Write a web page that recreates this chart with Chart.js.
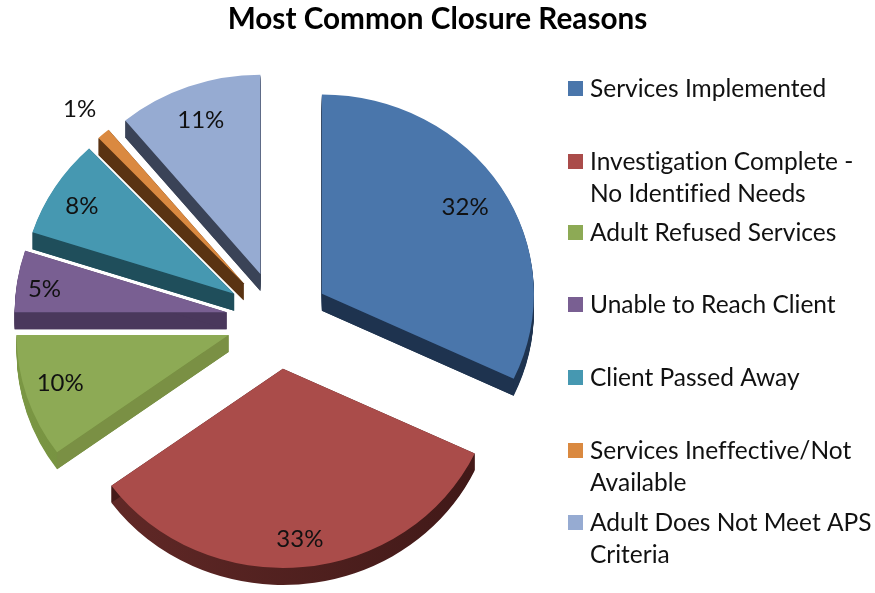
<!DOCTYPE html>
<html>
<head>
<meta charset="utf-8">
<title>Most Common Closure Reasons</title>
<script src="https://cdn.jsdelivr.net/npm/chart.js@4"></script>
<style>
    html, body { margin: 0; padding: 0; background: #fff; }
    canvas { display: block; }
</style>
</head>
<body>
<canvas id="closureChart" width="875" height="593"></canvas>
<script>
const reasons = [
    ['Services Implemented'],
    ['Investigation Complete -', 'No Identified Needs'],
    ['Adult Refused Services'],
    ['Unable to Reach Client'],
    ['Client Passed Away'],
    ['Services Ineffective/Not', 'Available'],
    ['Adult Does Not Meet APS', 'Criteria']
];
const shares = [32, 33, 10, 5, 8, 1, 11];

const topColors = ['#4a76ab', '#aa4c4a', '#8daa55', '#795f92', '#4698b1', '#da8940', '#96abd2'];
const sideColors = ['#1e334f', '#451a19', '#7a9044', '#4a385c', '#1f4e5b', '#5a3312', '#3a4357'];
const rimColors = [
    ['#1e334f', '#1e334f'],
    ['#642a28', '#3f1817'],
    ['#7b9744', '#587028'],
    ['#4a385c', '#4a385c'],
    ['#1f4e5b', '#1f4e5b'],
    ['#5a3312', '#5a3312'],
    ['#3a4357', '#3a4357']
];

// how far along the slice radius each percentage sits, and a small vertical nudge
const labelReach = [0.80, 0.85, 0.835, 0.87, 0.85, 1.17, 0.83];
const labelNudge = [-1, 1.5, -3, 4, 3, 1, 2];
const legendRows = [88, 161, 232, 304, 377, 450, 522];

const TILT = 0.94;
const DEPTH = 17;
const EXPLODE = 52;
// pie sits left of the canvas middle, the title stays centred on the canvas
const SHIFT_X = -159.5;
const FONT = 'Lato, Carlito, sans-serif';

function midAngle(arc) {
    return (arc.startAngle + arc.endAngle) / 2;
}

// Pie with pulled-out slices, squashed vertically and given a thick edge
class Pie3DController extends Chart.PieController {
    static id = 'pie3d';
    static defaults = Chart.PieController.defaults;
    static overrides = Chart.PieController.overrides;

    updateElement(arc, index, props, mode) {
        if (props.x !== undefined) {
            const mid = (props.startAngle + props.endAngle) / 2;
            props.x += SHIFT_X + Math.cos(mid) * EXPLODE;
            props.y += Math.sin(mid) * EXPLODE;
        }
        super.updateElement(arc, index, props, mode);
    }

    drawSides(ctx, arc, index) {
        const { x, y, startAngle, endAngle, outerRadius: r } = arc;
        const rim = ctx.createLinearGradient(x - r, 0, x + r, 0);
        rim.addColorStop(0, rimColors[index][0]);
        rim.addColorStop(1, rimColors[index][1]);
        ctx.fillStyle = rim;
        for (let d = DEPTH; d > 0; d--) {
            ctx.beginPath();
            ctx.moveTo(x, y + d / TILT);
            ctx.arc(x, y + d / TILT, r, startAngle, endAngle);
            ctx.closePath();
            ctx.fill();
        }
        // the two cut faces
        ctx.fillStyle = sideColors[index];
        [startAngle, endAngle].forEach(angle => {
            const ex = x + Math.cos(angle) * r;
            const ey = y + Math.sin(angle) * r;
            ctx.beginPath();
            ctx.moveTo(x, y);
            ctx.lineTo(ex, ey);
            ctx.lineTo(ex, ey + DEPTH / TILT);
            ctx.lineTo(x, y + DEPTH / TILT);
            ctx.closePath();
            ctx.fill();
        });
    }

    draw() {
        const ctx = this._ctx;
        const area = this.chart.chartArea;
        const cy = (area.top + area.bottom) / 2;
        ctx.save();
        ctx.translate(0, cy);
        ctx.scale(1, TILT);
        ctx.translate(0, -cy);
        this._cachedMeta.data.forEach((arc, i) => this.drawSides(ctx, arc, i));
        super.draw();
        ctx.restore();
    }
}
Chart.register(Pie3DController);

const percentLabels = {
    id: 'percentLabels',
    afterDatasetsDraw(chart) {
        const ctx = chart.ctx;
        const area = chart.chartArea;
        const cy = (area.top + area.bottom) / 2;
        ctx.save();
        ctx.font = '24px ' + FONT;
        ctx.fillStyle = '#111';
        ctx.textAlign = 'center';
        ctx.textBaseline = 'middle';
        chart.getDatasetMeta(0).data.forEach((arc, i) => {
            const mid = midAngle(arc);
            const dist = arc.outerRadius * labelReach[i];
            const px = arc.x + Math.cos(mid) * dist;
            const py = arc.y + Math.sin(mid) * dist;
            ctx.fillText(shares[i] + '%', px, cy + (py - cy) * TILT + labelNudge[i]);
        });
        ctx.restore();
    }
};

// Entries are not evenly spaced and wrap over two lines, so the legend is drawn here
const sideLegend = {
    id: 'sideLegend',
    afterDraw(chart) {
        const ctx = chart.ctx;
        ctx.save();
        ctx.font = '24.5px ' + FONT;
        ctx.textRendering = 'optimizeSpeed';
        ctx.textBaseline = 'middle';
        reasons.forEach((lines, i) => {
            ctx.fillStyle = topColors[i];
            ctx.fillRect(568, legendRows[i] - 7, 15, 15);
            ctx.fillStyle = '#111';
            lines.forEach((line, n) => ctx.fillText(line, 590, legendRows[i] + 1 + n * 32));
        });
        ctx.restore();
    }
};

new Chart(document.getElementById('closureChart'), {
    type: 'pie3d',
    data: {
        labels: reasons.map(lines => lines.join(' ')),
        datasets: [{
            data: shares,
            backgroundColor: topColors,
            borderWidth: 0,
            clip: false
        }]
    },
    plugins: [percentLabels, sideLegend],
    options: {
        responsive: false,
        animation: false,
        radius: 212,
        plugins: {
            legend: { display: false },
            tooltip: { enabled: false },
            title: {
                display: true,
                text: 'Most Common Closure Reasons',
                color: '#000',
                font: { family: FONT, size: 29.7, weight: 'bold', lineHeight: 1.2 },
                padding: { top: 2, bottom: 9.4 }
            }
        }
    }
});
</script>
</body>
</html>
